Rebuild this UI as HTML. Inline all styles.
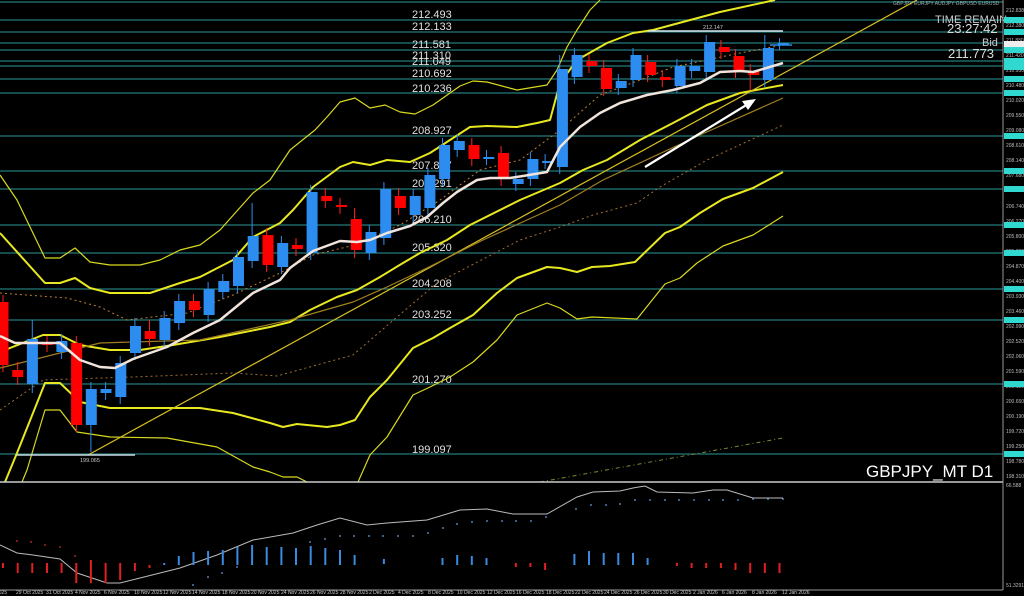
<!DOCTYPE html>
<html><head><meta charset="utf-8"><style>
html,body{margin:0;padding:0;background:#000;width:1024px;height:596px;overflow:hidden}
svg{display:block}
text{font-family:"Liberation Sans",sans-serif}
</style></head><body>
<svg width="1024" height="596" viewBox="0 0 1024 596" xmlns="http://www.w3.org/2000/svg">
<rect width="1024" height="596" fill="#000"/>
<!-- horizontal levels -->
<g stroke="#237a7a" stroke-width="1.3">
<line x1="0" y1="2" x2="1003" y2="2"/><line x1="0" y1="20" x2="1003" y2="20"/><line x1="0" y1="32" x2="1003" y2="32"/><line x1="0" y1="43" x2="1003" y2="43"/><line x1="0" y1="50" x2="1003" y2="50"/><line x1="0" y1="61" x2="1003" y2="61"/><line x1="0" y1="66" x2="1003" y2="66"/><line x1="0" y1="79" x2="1003" y2="79"/><line x1="0" y1="93" x2="1003" y2="93"/><line x1="0" y1="136" x2="1003" y2="136"/><line x1="0" y1="171" x2="1003" y2="171"/><line x1="0" y1="189" x2="1003" y2="189"/><line x1="0" y1="225" x2="1003" y2="225"/><line x1="0" y1="253" x2="1003" y2="253"/><line x1="0" y1="289" x2="1003" y2="289"/><line x1="0" y1="320" x2="1003" y2="320"/><line x1="0" y1="384" x2="1003" y2="384"/><line x1="0" y1="454" x2="1003" y2="454"/>
</g>
<g fill="#e0e0e0" font-size="11">
<text x="412" y="18">212.493</text><text x="412" y="30">212.133</text><text x="412" y="48">211.581</text><text x="412" y="59">211.310</text><text x="412" y="65">211.049</text><text x="412" y="77">210.692</text><text x="412" y="92">210.236</text><text x="412" y="134">208.927</text><text x="412" y="169">207.837</text><text x="412" y="187">207.291</text><text x="412" y="223">206.210</text><text x="412" y="251">205.320</text><text x="412" y="287">204.208</text><text x="412" y="318">203.252</text><text x="412" y="383">201.270</text><text x="412" y="453">199.097</text>
</g>
<!-- bands -->
<g fill="none" stroke-linejoin="round">
<polyline stroke="#d8d820" stroke-width="1.2" points="0,175 17,200 45,258 60,258 75,248 90,262 110,265 140,265 160,260 180,250 200,245 220,230 253,193 270,180 290,150 315,130 327,117 340,102 355,98 370,108 385,105 400,112 415,114 433,105 460,86 473,81 487,82 517,90 547,85 557,70 567,47 577,30 590,10 600,0"/>
<polyline stroke="#e8e820" stroke-width="2" points="0,233 45,283 60,283 75,278 90,288 110,293 150,293 180,283 200,277 233,260 253,237 280,223 293,210 313,187 340,167 353,162 370,165 387,160 410,162 430,153 450,140 470,127 487,126 517,127 537,123 550,120 560,83 577,60 607,43 633,33 653,30 720,12 775,0"/>
<polyline stroke="#e8e820" stroke-width="2" points="0,352 43,335 60,335 80,345 110,350 140,350 173,345 220,337 270,327 290,322 310,310 337,297 357,290 380,277 403,263 420,253 447,240 470,225 520,200 560,183 583,170 607,160 640,140 673,123 707,105 740,93 783,85"/>
<polyline stroke="#e8e820" stroke-width="2" points="5,482 17,453 45,383 60,383 80,402 110,408 200,408 233,413 270,423 283,427 297,424 327,427 340,425 355,420 370,397 387,380 413,348 433,338 450,328 473,315 497,293 517,278 547,267 560,268 577,272 592,267 610,266 635,262 665,233 680,227 700,213 723,199 753,188 783,172"/>
<polyline stroke="#d8d820" stroke-width="1.2" points="22,482 27,470 45,410 60,410 77,432 110,437 167,438 217,447 253,467 270,472 283,477 297,477 307,482"/>
<polyline stroke="#d8d820" stroke-width="1.2" points="358,482 370,455 387,437 413,395 430,387 450,377 473,362 497,340 517,315 547,303 560,308 577,319 592,317 637,319 665,284 680,278 697,263 723,246 753,235 783,216"/>
<line x1="88" y1="455" x2="917" y2="0" stroke="#d8c020" stroke-width="1.2"/>
<polyline stroke="#a08020" stroke-width="1.2" points="0,368 100,343 200,340 290,320 353,302 387,287 427,268 483,240 560,205 603,180 700,135 783,98"/>
<polyline stroke="#c08030" stroke-width="1" stroke-dasharray="2,3" points="0,293 67,298 100,307 127,320 187,313 233,295 280,273 313,255 355,245 400,225 440,200 480,170 520,160 560,130 600,95 640,80 673,67 740,53 783,45"/>
<polyline stroke="#a07030" stroke-width="1" stroke-dasharray="2,3" points="0,410 43,380 133,377 233,373 277,376 353,355 397,317 437,283 520,240 560,227 593,215 637,203 660,187 707,160 783,125"/>
<line x1="540" y1="482" x2="783" y2="438" stroke="#7a8a30" stroke-width="1" stroke-dasharray="4,3,1,3"/>
</g>
<!-- candles wicks -->
<g stroke-width="1">
<path stroke="#ff2020" d="M3,295V372M17.7,362V385M47,336V352M76.3,336V432M149.5,320V346M193.5,294V317M266.7,228V272M296,238V256M325.3,188V208M340,198V214M354.6,208V258M398.6,188V215M471.8,138V166M501.1,146V186M589,54V73M603.7,60V96M647.6,55V82M662.3,70V87M720.9,40V59M735.5,49V78M750.2,64V90"/>
<path stroke="#2d8cf0" d="M32.3,320V393M61.6,334V359M90.9,382V452M105.6,382V400M120.2,356V404M134.9,318V360M164.2,311V347M178.8,294V330M208.1,282V322M222.8,274V299M237.4,250V293M252.1,203V268M281.4,236V274M310.7,185V260M369.3,225V260M383.9,182V245M413.2,189V222M427.9,168V215M442.5,138V186M457.2,134V157M486.5,150V165M515.8,172V191M530.4,152V186M545.1,154V169M559.7,55V174M574.4,48V84M618.3,74V95M633,48V87M676.9,59V93M691.6,59V78M706.2,35V79M764.8,35V87M779.5,38V50"/>
</g>
<g fill="#ff0000">
<rect x="-2.5" y="302" width="11" height="63"/><rect x="12.2" y="370" width="11" height="7"/><rect x="41.7" y="343" width="11" height="2"/><rect x="71.1" y="343" width="11" height="82"/><rect x="144.7" y="331" width="11" height="8"/><rect x="188.9" y="301" width="11" height="9"/><rect x="262.5" y="235" width="11" height="30"/><rect x="291.9" y="245" width="11" height="4"/><rect x="321.3" y="196" width="11" height="5"/><rect x="336.1" y="205" width="11" height="2"/><rect x="350.8" y="219" width="11" height="31"/><rect x="394.9" y="196" width="11" height="12"/><rect x="468.5" y="145" width="11" height="14"/><rect x="498" y="153" width="11" height="26"/><rect x="586.3" y="61" width="11" height="5"/><rect x="601" y="68" width="11" height="21"/><rect x="645.2" y="62" width="11" height="13"/><rect x="659.9" y="77" width="11" height="3"/><rect x="718.8" y="47" width="11" height="5"/><rect x="733.5" y="56" width="11" height="15"/><rect x="748.2" y="71" width="11" height="4"/>
</g>
<g fill="#2d8cf0">
<rect x="26.9" y="339" width="11" height="45"/><rect x="56.4" y="341" width="11" height="11"/><rect x="85.8" y="389" width="11" height="36"/><rect x="100.5" y="389" width="11" height="4"/><rect x="115.3" y="363" width="11" height="34"/><rect x="130" y="326" width="11" height="27"/><rect x="159.4" y="318" width="11" height="22"/><rect x="174.1" y="301" width="11" height="22"/><rect x="203.6" y="289" width="11" height="26"/><rect x="218.3" y="281" width="11" height="11"/><rect x="233" y="257" width="11" height="29"/><rect x="247.7" y="236" width="11" height="25"/><rect x="277.2" y="243" width="11" height="24"/><rect x="306.6" y="192" width="11" height="61"/><rect x="365.5" y="232" width="11" height="21"/><rect x="380.2" y="189" width="11" height="49"/><rect x="409.7" y="196" width="11" height="19"/><rect x="424.4" y="175" width="11" height="33"/><rect x="439.1" y="145" width="11" height="34"/><rect x="453.8" y="141" width="11" height="9"/><rect x="483.3" y="157" width="11" height="2"/><rect x="512.7" y="179" width="11" height="5"/><rect x="527.4" y="159" width="11" height="20"/><rect x="542.1" y="161" width="11" height="2"/><rect x="556.9" y="69" width="11" height="98"/><rect x="571.6" y="55" width="11" height="22"/><rect x="615.7" y="81" width="11" height="7"/><rect x="630.5" y="55" width="11" height="25"/><rect x="674.6" y="66" width="11" height="20"/><rect x="689.3" y="66" width="11" height="5"/><rect x="704.1" y="42" width="11" height="30"/><rect x="762.9" y="48" width="11" height="32"/><rect x="777.7" y="43" width="11" height="2"/>
</g>
<!-- white MA -->
<polyline fill="none" stroke="#f0e4dc" stroke-width="2.5" stroke-linejoin="round" points="0,336 15,343 60,343 80,360 100,367 115,368 133,359 167,347 193,333 220,320 253,293 280,280 290,268 313,251 340,241 357,242 370,240 387,233 410,226 427,217 443,203 457,192 477,180 490,178 510,178 523,176 547,172 560,147 580,127 600,113 620,103 647,95 673,90 700,83 720,72 740,71 753,72 773,66 783,63"/>
<!-- white levels and arrow -->
<line x1="648" y1="31" x2="783" y2="31" stroke="#d8e8f0" stroke-width="1.5"/>
<text x="703" y="29" font-size="5.5" fill="#ccc">212.147</text>
<line x1="17" y1="455" x2="135" y2="455" stroke="#c8d8e0" stroke-width="1.5"/>
<text x="80" y="462" font-size="5.5" fill="#ccc">199.065</text>
<line x1="645" y1="167" x2="748" y2="104" stroke="#fff" stroke-width="2.2"/>
<polygon points="756,99 742,101 748,110" fill="#fff"/>
<line x1="770" y1="45" x2="792" y2="45" stroke="#2d8cf0" stroke-width="1.5"/>
<!-- top right info -->
<text x="893" y="5" font-size="5" fill="#9aa">GBPJPY  EURJPY  AUDJPY  GBPUSD  EURUSD</text>
<text x="935" y="23" font-size="11" fill="#ccc">TIME REMAIN</text>
<text x="947" y="33" font-size="13" fill="#ddd">23:27:42</text>
<text x="982" y="46" font-size="11" fill="#ccc">Bid</text>
<text x="948" y="58" font-size="13" fill="#ddd">211.773</text>
<text x="866" y="477" font-size="17" fill="#fff">GBPJPY_MT D1</text>
<!-- separators and axis -->
<line x1="0" y1="482" x2="1003" y2="482" stroke="#ccc" stroke-width="1.5"/>
<line x1="1003" y1="0" x2="1003" y2="590" stroke="#999" stroke-width="1"/>
<line x1="0" y1="590" x2="1003" y2="590" stroke="#999" stroke-width="1"/>
<g font-size="5" fill="#bbb">
<text x="1006" y="12">212.838</text><text x="1006" y="27">212.380</text><text x="1006" y="42">211.880</text><text x="1006" y="57">211.420</text><text x="1006" y="72">210.950</text><text x="1006" y="87">210.480</text><text x="1006" y="102">210.020</text><text x="1006" y="117">209.550</text><text x="1006" y="132">209.080</text><text x="1006" y="147">208.610</text><text x="1006" y="162">208.140</text><text x="1006" y="177">207.680</text><text x="1006" y="192">207.210</text><text x="1006" y="208">206.740</text><text x="1006" y="223">206.270</text><text x="1006" y="238">205.800</text><text x="1006" y="253">205.330</text><text x="1006" y="268">204.870</text><text x="1006" y="283">204.400</text><text x="1006" y="298">203.930</text><text x="1006" y="313">203.460</text><text x="1006" y="328">202.990</text><text x="1006" y="343">202.520</text><text x="1006" y="358">202.060</text><text x="1006" y="373">201.590</text><text x="1006" y="388">201.120</text><text x="1006" y="403">200.650</text><text x="1006" y="418">200.190</text><text x="1006" y="433">199.720</text><text x="1006" y="448">199.250</text><text x="1006" y="463">198.780</text><text x="1006" y="478">198.310</text>
<text x="1006" y="487">66.588</text><text x="1006" y="587">51.3291</text>
</g>
<g fill="#30d8d0">
<rect x="1004" y="17" width="20" height="6"/><rect x="1004" y="29" width="20" height="6"/><rect x="1004" y="47" width="20" height="6"/><rect x="1004" y="58" width="20" height="6"/><rect x="1004" y="64" width="20" height="6"/><rect x="1004" y="76" width="20" height="6"/><rect x="1004" y="90" width="20" height="6"/><rect x="1004" y="133" width="20" height="6"/><rect x="1004" y="168" width="20" height="6"/><rect x="1004" y="186" width="20" height="6"/><rect x="1004" y="222" width="20" height="6"/><rect x="1004" y="250" width="20" height="6"/><rect x="1004" y="286" width="20" height="6"/><rect x="1004" y="317" width="20" height="6"/><rect x="1004" y="381" width="20" height="6"/><rect x="1004" y="451" width="20" height="6"/>
</g>
<rect x="1004" y="41" width="20" height="6" fill="#eee"/>
<!-- lower panel -->
<polyline fill="none" stroke="#bbb" stroke-width="1" points="0,545 17,553 33,555 60,559 77,573 107,583 120,583 140,578 180,568 217,555 253,540 293,533 317,525 340,518 367,525 387,523 427,520 460,510 487,509 513,514 547,514 577,497 593,492 620,491 633,488 645,486 657,492 693,493 713,490 727,490 753,498 783,498"/>
<g stroke-width="2">
<path stroke="#e02020" d="M3,563V568M17.7,563V573M32.3,563V573M47,563V573M61.6,563V573M76.3,563V583M90.9,560V583M105.6,563V583M120.2,563V580M134.9,563V571M149.5,565V568M515.8,563V567M530.4,563V567M545.1,563V570M676.9,563V566M691.6,563V568M706.2,563V568M720.9,563V568M735.5,563V570M750.2,563V573M764.8,563V573M779.5,563V573"/>
<path stroke="#3a8ae0" d="M164.2,563V565M178.8,556V565M193.5,552V565M208.1,551V565M222.8,550V565M237.4,547V565M252.1,545V565M266.7,547V565M281.4,547V565M296,548V565M310.7,546V565M325.3,548V565M340,550V565M354.6,555V565M383.9,559V564M442.5,558V565M457.2,555V565M471.8,556V565M486.5,558V565M574.4,554V565M589,551V565M603.7,553V565M618.3,553V565M633,553V565M647.6,558V565"/>
</g>
<g fill="#6aa0e0">
<circle cx="383" cy="536" r="0.9"/><circle cx="398" cy="536" r="0.9"/><circle cx="413" cy="536" r="0.9"/><circle cx="428" cy="533" r="0.9"/><circle cx="443" cy="528" r="0.9"/><circle cx="457" cy="524" r="0.9"/><circle cx="472" cy="522" r="0.9"/><circle cx="487" cy="521" r="0.9"/><circle cx="502" cy="521" r="0.9"/><circle cx="516" cy="521" r="0.9"/><circle cx="531" cy="521" r="0.9"/><circle cx="546" cy="517" r="0.9"/><circle cx="576" cy="509" r="0.9"/><circle cx="591" cy="505" r="0.9"/><circle cx="606" cy="505" r="0.9"/><circle cx="620" cy="504" r="0.9"/><circle cx="635" cy="500" r="0.9"/><circle cx="650" cy="500" r="0.9"/><circle cx="665" cy="500" r="0.9"/><circle cx="679" cy="500" r="0.9"/><circle cx="694" cy="500" r="0.9"/><circle cx="709" cy="500" r="0.9"/><circle cx="723" cy="500" r="0.9"/><circle cx="738" cy="500" r="0.9"/><circle cx="753" cy="499" r="0.9"/><circle cx="768" cy="499" r="0.9"/><circle cx="783" cy="499" r="0.9"/>
<circle cx="193" cy="585" r="0.9"/><circle cx="208" cy="577" r="0.9"/><circle cx="222" cy="573" r="0.9"/><circle cx="237" cy="567" r="0.9"/><circle cx="310" cy="542" r="0.9"/><circle cx="325" cy="539" r="0.9"/><circle cx="340" cy="536" r="0.9"/><circle cx="354" cy="536" r="0.9"/><circle cx="369" cy="536" r="0.9"/>
</g>
<g fill="#d03030"><circle cx="17" cy="541" r="0.9"/><circle cx="31" cy="542" r="0.9"/><circle cx="45" cy="545" r="0.9"/><circle cx="60" cy="547" r="0.9"/><circle cx="75" cy="556" r="0.9"/></g>
<!-- date labels -->
<g font-size="5" fill="#ccc">
<text x="-4" y="594">2025</text><text x="16" y="594">29 Oct 2025</text><text x="46" y="594">31 Oct 2025</text><text x="75" y="594">4 Nov 2025</text><text x="104" y="594">6 Nov 2025</text><text x="134" y="594">10 Nov 2025</text><text x="163" y="594">12 Nov 2025</text><text x="192" y="594">14 Nov 2025</text><text x="222" y="594">18 Nov 2025</text><text x="251" y="594">20 Nov 2025</text><text x="281" y="594">24 Nov 2025</text><text x="310" y="594">26 Nov 2025</text><text x="340" y="594">28 Nov 2025</text><text x="369" y="594">2 Dec 2025</text><text x="398" y="594">4 Dec 2025</text><text x="428" y="594">8 Dec 2025</text><text x="457" y="594">10 Dec 2025</text><text x="487" y="594">12 Dec 2025</text><text x="516" y="594">16 Dec 2025</text><text x="546" y="594">18 Dec 2025</text><text x="575" y="594">22 Dec 2025</text><text x="604" y="594">24 Dec 2025</text><text x="634" y="594">26 Dec 2025</text><text x="663" y="594">30 Dec 2025</text><text x="693" y="594">2 Jan 2026</text><text x="722" y="594">6 Jan 2026</text><text x="752" y="594">8 Jan 2026</text><text x="782" y="594">12 Jan 2026</text>
</g>
</svg>
</body></html>
